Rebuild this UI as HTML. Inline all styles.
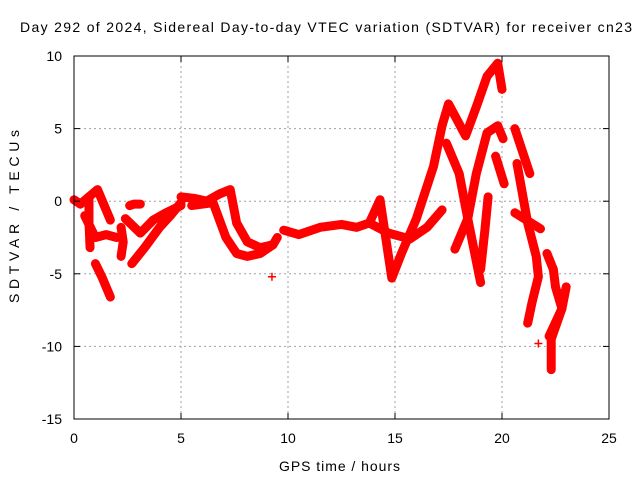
<!DOCTYPE html>
<html><head><meta charset="utf-8"><style>
body{margin:0;background:#fff;}
svg{display:block;font-family:"Liberation Sans",sans-serif;}
</style></head><body>
<svg id="chart" width="640" height="480">
<text x="20" y="32" font-size="14" textLength="612" lengthAdjust="spacing">Day 292 of 2024, Sidereal Day-to-day VTEC variation (SDTVAR) for receiver cn23</text>
<text x="279" y="471" font-size="14" textLength="121" lengthAdjust="spacing">GPS time / hours</text>
<text transform="translate(19,303) rotate(-90)" font-size="14" textLength="173" lengthAdjust="spacing">SDTVAR / TECUs</text>
<g id="grid"></g><g id="marks"></g><g id="axes"></g>
</svg>
<script>
const xTicks=[0,5,10,15,20,25];
const yTicks=[-15,-10,-5,0,5,10];
const t1h=[0,0.3,0.7,1.1,1.7], t1v=[0.1,-0.2,0.3,0.8,-1.3];
const t2h=[0.7,0.7,0.75], t2v=[0.3,-1.5,-3.2];
const t3h=[1.0,1.3,1.7], t3v=[-4.3,-5.2,-6.6];
const t4h=[0.5,1.0,1.5,2.0], t4v=[-1,-2.5,-2.3,-2.5];
const t5h=[2.2,2.3,2.2], t5v=[-1.8,-2.8,-3.8];
const t6h=[2.7,3.3,4.0,4.5,5.0], t6v=[-4.3,-3.2,-1.8,-1,-0.1];
const t7h=[2.4,3.1,3.7,4.3,5.0], t7v=[-1.2,-2.2,-1.3,-0.8,-0.3];
const t8h=[2.6,2.8,3.1], t8v=[-0.3,-0.2,-0.2];
const t9h=[5.0,5.6,6.2,6.8,7.3,7.6,8.1,8.7,9.3], t9v=[0.3,0.2,0,0.5,0.8,-1.5,-2.8,-3.2,-3];
const t10h=[5.5,6.5,7.1,7.6,8.1,8.7,9.3,9.5], t10v=[-0.3,-0.1,-2.5,-3.6,-3.8,-3.6,-3,-2.5];
const t11h=[9.8,10.5,11.5,12.5,13.2,13.8,14.3,14.85,15.3,16.0,16.8,17.2,17.5,18.3,18.8,19.3,19.8,20.0];
const t11v=[-2,-2.3,-1.8,-1.6,-1.8,-1.5,0.1,-5.3,-3.6,-1.2,2.4,5.2,6.7,4.5,6.5,8.6,9.5,7.7];
const t12h=[13.8,14.7,15.7,16.5,17.2], t12v=[-1.5,-2.2,-2.6,-1.8,-0.6];
const t13h=[17.4,18.0,18.4,19.0], t13v=[4,1.9,-1.2,-5.6];
const t14h=[17.8,18.4,18.8,19.3,19.8,20.05], t14v=[-3.3,-1.2,1.9,4.7,5.2,4.3];
const t15h=[19.35,19.2,19.0], t15v=[0.3,-2,-4.7];
const t16h=[19.7,20.1], t16v=[3.1,1.2];
const t17h=[20.6,21.3], t17v=[5.0,1.9];
const t18h=[20.7,21.2,21.6,21.7,21.4,21.2], t18v=[2.6,-1.5,-3.8,-5.2,-7,-8.4];
const t19h=[20.6,21.8], t19v=[-0.8,-1.9];
const t20h=[22.1,22.4,22.5,22.8,22.2], t20v=[-3.6,-4.7,-5.9,-7.4,-9.3];
const t21h=[23.0,22.8,22.3,22.3], t21v=[-5.9,-7.4,-9.5,-11.6];
const t22h=[21.7,9.25], t22v=[-9.8,-5.2];
const tracks=[[t1h,t1v],[t2h,t2v],[t3h,t3v],[t4h,t4v],[t5h,t5v],[t6h,t6v],[t7h,t7v],[t8h,t8v],[t9h,t9v],[t10h,t10v],[t11h,t11v],[t12h,t12v],[t13h,t13v],[t14h,t14v],[t15h,t15v],[t16h,t16v],[t17h,t17v],[t18h,t18v],[t19h,t19v],[t20h,t20v],[t21h,t21v]];
const X0=74,X1=609,Y0=419,Y1=56;
const sx=h=>X0+(h-0)/(25-0)*(X1-X0);
const sy=v=>Y0-(v+15)/(25)*(Y0-Y1);
const NS="http://www.w3.org/2000/svg";
function mk(t,a,p){const e=document.createElementNS(NS,t);for(const k in a)e.setAttribute(k,a[k]);p.appendChild(e);return e;}
const grid=document.getElementById('grid'),marks=document.getElementById('marks'),axes=document.getElementById('axes');
xTicks.forEach(t=>{const x=sx(t);
 if(t>0&&t<25){const g=mk('line',{x1:x,x2:x,y1:Y1,y2:Y0,stroke:'#a0a0a0','stroke-dasharray':'2,3'},grid);
 
 }
 mk('line',{x1:x,x2:x,y1:Y0,y2:Y0-6,stroke:'#000'},axes);
 mk('line',{x1:x,x2:x,y1:Y1,y2:Y1+6,stroke:'#000'},axes);
 const l=mk('text',{x:x,y:Y0+24,'font-size':14,'text-anchor':'middle'},axes);l.textContent=t;
 
 });
yTicks.forEach(t=>{const y=sy(t);
 if(t>-15&&t<10){const g=mk('line',{x1:X0,x2:X1,y1:y,y2:y,stroke:'#a0a0a0','stroke-dasharray':'2,3'},grid);
 
 }
 mk('line',{x1:X0,x2:X0+6,y1:y,y2:y,stroke:'#000'},axes);
 mk('line',{x1:X1,x2:X1-6,y1:y,y2:y,stroke:'#000'},axes);
 const l=mk('text',{x:X0-12,y:y+5,'font-size':14,'text-anchor':'end'},axes);l.textContent=t;
 
 });
const box=mk('rect',{x:X0,y:Y1,width:X1-X0,height:Y0-Y1,fill:'none',stroke:'#000'},axes);


tracks.forEach(([hs,vs])=>{
 const pts=hs.map((h,i)=>sx(h)+','+sy(vs[i])).join(' ');
 const pl=mk('polyline',{points:pts,fill:'none',stroke:'#f00','stroke-width':9,'stroke-linejoin':'round','stroke-linecap':'round'},marks);
 
 
});
function plus(h,v){const x=sx(h),y=sy(v);
 const p=mk('path',{d:`M${x-4},${y}H${x+4}M${x},${y-4}V${y+4}`,stroke:'#f00','stroke-width':1.5},marks);
 
 }
tracks.forEach(([hs,vs])=>hs.forEach((h,i)=>plus(h,vs[i])));
t22h.forEach((h,i)=>plus(h,t22v[i]));
</script>
</body></html>
